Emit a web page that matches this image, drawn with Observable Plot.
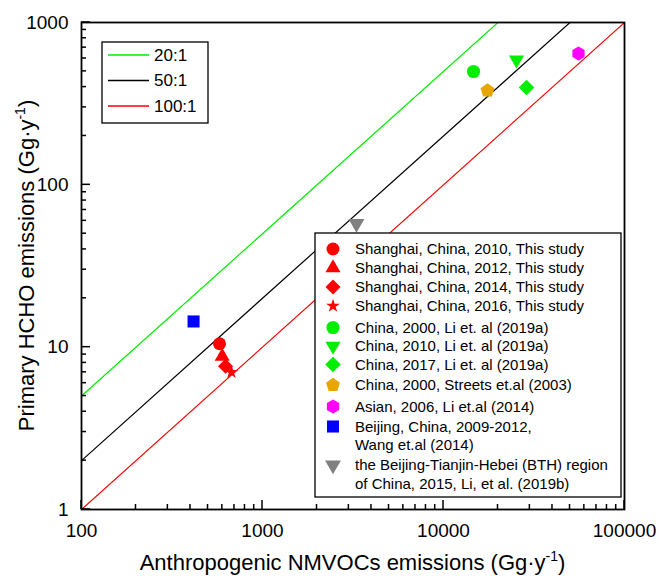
<!DOCTYPE html>
<html><head><meta charset="utf-8">
<script src="https://cdn.jsdelivr.net/npm/d3@7"></script>
<script src="https://cdn.jsdelivr.net/npm/@observablehq/plot@0.6"></script>
<style>body{margin:0;background:#fff}</style>
</head><body><div id="chart"></div>
<script>
// ---- data ----
const seriesNames = [
  "Shanghai, China, 2010, This study",
  "Shanghai, China, 2012, This study",
  "Shanghai, China, 2014, This study",
  "Shanghai, China, 2016, This study",
  "China, 2000, Li et. al (2019a)",
  "China, 2010, Li et. al (2019a)",
  "China, 2017, Li et. al (2019a)",
  "China, 2000, Streets et.al (2003)",
  "Asian, 2006, Li et.al (2014)",
  "Beijing, China, 2009-2012,\nWang et.al (2014)",
  "the Beijing-Tianjin-Hebei (BTH) region\nof China, 2015, Li, et al. (2019b)"
];
const nmvoc = [579, 599, 625, 674, 14650, 25300, 28760, 17500, 55700, 416, 3305];
const hcho  = [10.5, 8.76, 7.63, 7.01, 499, 589, 398, 381, 644, 14.4, 57.8];
const colors = ["#ff0000","#ff0000","#ff0000","#ff0000","#00ee00","#00ee00","#00ee00","#e8a600","#ff00ff","#0000ff","#808080"];
const shapes = ["circle","triangle","diamond","star","circle","triangleDown","diamond","pentagon","hexagon","square","triangleDown"];
const sizes  = [6.5, 5.6, 6.0, 4.3, 6.6, 5.6, 6.2, 6.4, 6.4, 6.8, 5.9];

const ratioLabels = ["20:1", "50:1", "100:1"];
const ratios = [20, 50, 100];
const ratioColors = ["#00ee00", "#000000", "#ff0000"];

const xTicks = [100, 1000, 10000, 100000];
const yTicks = [1, 10, 100, 1000];
const minorSteps = [2, 3, 4, 5, 6, 7, 8, 9];

// ---- symbols ----
const sqrt3 = Math.sqrt(3);
const triangleDown = {draw(ctx, size) {
  const y = Math.sqrt(size / (sqrt3 * 3));
  ctx.moveTo(0, 2 * y); ctx.lineTo(-sqrt3 * y, -y); ctx.lineTo(sqrt3 * y, -y); ctx.closePath();
}};
function polygon(n) {
  return {draw(ctx, size) {
    const R = Math.sqrt(size / (n / 2 * Math.sin(2 * Math.PI / n)));
    for (let i = 0; i < n; i++) {
      const a = 2 * Math.PI * i / n, px = R * Math.sin(a), py = -R * Math.cos(a);
      i ? ctx.lineTo(px, py) : ctx.moveTo(px, py);
    }
    ctx.closePath();
  }};
}
const symbolMap = {
  circle: d3.symbolCircle, triangle: d3.symbolTriangle, star: d3.symbolStar, square: d3.symbolSquare,
  triangleDown, diamond: polygon(4), pentagon: polygon(5), hexagon: polygon(6)
};

const points = nmvoc.map((x, i) => ({x, y: hcho[i], i}));
const xMinor = xTicks.slice(0, -1).flatMap(d => minorSteps.map(s => d * s));
const yMinor = yTicks.slice(0, -1).flatMap(d => minorSteps.map(s => d * s));
const ratioLines = ratios.flatMap((r, k) => [xTicks[0], xTicks[xTicks.length - 1]].map(x => ({x, y: x / r, k})));

const font = "'Liberation Sans', Arial, Helvetica, sans-serif";
const W = 659, H = 576, ML = 81, MR = 35, MT = 22, MB = 67;

const plot = Plot.plot({
  width: W, height: H,
  marginLeft: ML, marginRight: MR, marginTop: MT, marginBottom: MB,
  x: {type: "log", domain: [100, 100000]},
  y: {type: "log", domain: [1, 1000]},
  style: {fontFamily: font, fontSize: "19px", background: "#fff", color: "#000", overflow: "visible"},
  marks: [
    ...ratios.map((r, k) => Plot.line(ratioLines.filter(d => d.k === k), {x: "x", y: "y", stroke: ratioColors[k], strokeWidth: 1.2, clip: true})),
    ...points.map(p => Plot.dot([p], {x: "x", y: "y", r: sizes[p.i], fill: colors[p.i], stroke: "none", symbol: symbolMap[shapes[p.i]]})),
    Plot.axisX({ticks: xTicks, tickSize: 0, tickPadding: 14, tickFormat: d => String(d), label: null, fontSize: 19}),
    Plot.axisY({ticks: yTicks, tickSize: 0, tickPadding: 13, tickFormat: d => String(d), label: null, fontSize: 19}),
    Plot.frame({stroke: "#000", strokeWidth: 1.8})
  ]
});
document.getElementById("chart").append(plot);

const svg = d3.select(plot);
const xs = plot.scale("x"), ys = plot.scale("y");
const pLeft = xs.range[0], pRight = xs.range[1], pBottom = ys.range[0], pTop = ys.range[1];

// inward ticks, positioned with Plot's scales
const tg = svg.append("g").attr("stroke", "#000").attr("stroke-width", 1.5).attr("fill", "none");
[[xTicks, 9], [xMinor, 5]].forEach(([vals, len]) => vals.forEach(v => {
  const px = xs.apply(v);
  tg.append("line").attr("x1", px).attr("x2", px).attr("y1", pBottom).attr("y2", pBottom - len);
}));
[[yTicks, 9], [yMinor, 5]].forEach(([vals, len]) => vals.forEach(v => {
  const py = ys.apply(v);
  tg.append("line").attr("x1", pLeft).attr("x2", pLeft + len).attr("y1", py).attr("y2", py);
}));

// axis titles
const xt = svg.append("text").attr("x", (pLeft + pRight) / 2).attr("y", pBottom + 61)
  .attr("text-anchor", "middle").attr("font-size", 22).attr("fill", "#000").attr("font-family", font);
xt.append("tspan").text("Anthropogenic NMVOCs emissions (Gg·y");
xt.append("tspan").attr("font-size", 14).attr("dy", -9).text("-1");
xt.append("tspan").attr("dy", 9).text(")");

const yt = svg.append("text").attr("transform", `translate(${pLeft - 47},${(pTop + pBottom) / 2}) rotate(-90)`)
  .attr("text-anchor", "middle").attr("font-size", 22).attr("fill", "#000").attr("font-family", font);
yt.append("tspan").text("Primary HCHO emissions (Gg·y");
yt.append("tspan").attr("font-size", 14).attr("dy", -9).text("-1");
yt.append("tspan").attr("dy", 9).text(")");

// ratio legend (top-left)
const g1 = svg.append("g").attr("font-family", font).attr("font-size", 17).attr("text-anchor", "start");
const l1x = pLeft + 21, l1y = pTop + 20;
g1.append("rect").attr("x", l1x).attr("y", l1y).attr("width", 106).attr("height", 81)
  .attr("fill", "#fff").attr("stroke", "#000").attr("stroke-width", 1.3);
ratioLabels.forEach((lab, k) => {
  const yy = l1y + 13 + k * 25.5;
  g1.append("line").attr("x1", l1x + 6).attr("x2", l1x + 47).attr("y1", yy).attr("y2", yy)
    .attr("stroke", ratioColors[k]).attr("stroke-width", 1.5);
  g1.append("text").attr("x", l1x + 52).attr("y", yy).attr("dy", "0.35em").attr("fill", "#000").text(lab);
});

// series legend (bottom-right)
const g2 = svg.append("g").attr("font-family", font).attr("font-size", 15).attr("text-anchor", "start");
const l2x = 315, l2y = 233, l2w = pRight - 3 - 315, l2h = 264;
g2.append("rect").attr("x", l2x).attr("y", l2y).attr("width", l2w).attr("height", l2h)
  .attr("fill", "#fff").attr("stroke", "#000").attr("stroke-width", 1.3);
const rowY = [249, 268, 287, 306, 327.5, 346, 364.5, 385, 406.5, 426.5, 465];
seriesNames.forEach((name, i) => {
  const yy = rowY[i];
  g2.append("path").attr("transform", `translate(${l2x + 18},${yy})`)
    .attr("d", d3.symbol(symbolMap[shapes[i]], Math.PI * sizes[i] * sizes[i])())
    .attr("fill", colors[i]);
  name.split("\n").forEach((line, j) => {
    g2.append("text").attr("x", l2x + 40).attr("y", yy + j * 18.5).attr("dy", "0.35em")
      .attr("fill", "#000").text(line);
  });
});
</script>
</body></html>
